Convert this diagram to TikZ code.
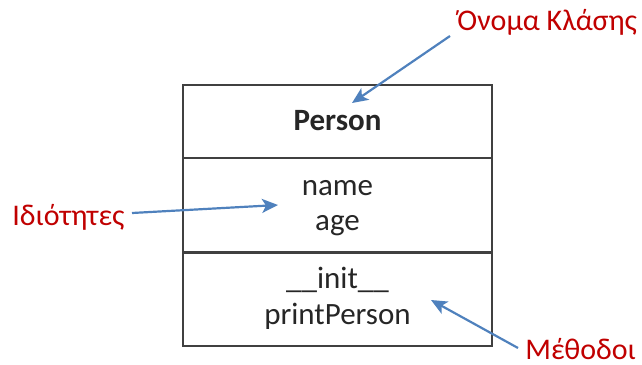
\documentclass[tikz,border=0pt]{standalone}
\usepackage{fontspec}
\setmainfont{Carlito}
\usetikzlibrary{arrows.meta,positioning,calc}
\definecolor{umlInk}{RGB}{38,38,38}
\definecolor{umlEdge}{RGB}{64,64,64}
\definecolor{umlRed}{RGB}{192,0,0}
\definecolor{umlBlue}{RGB}{79,129,189}
\begin{document}
\begin{tikzpicture}[x=.5pt,y=-.5pt]
\tikzset{
part/.style={draw=umlEdge,line width=.6pt,minimum width=154.5pt,inner sep=0pt},
entry/.style={font=\fontsize{15.5}{17}\selectfont,text=umlInk,anchor=base,inner sep=0pt},
tag/.style={font=\fontsize{15}{17}\selectfont,text=umlRed,inner sep=0pt},
pointer/.style={draw=umlBlue,line width=1.1pt,-{Stealth[length=8pt,width=7pt,inset=2pt]}}
}
\useasboundingbox (0,0) rectangle (642,364);
\node[part,minimum height=36.5pt] (head) at (337.5,121.5) {};
\node[part,minimum height=47pt] (attrs) at (337.5,205) {};
\node[part,minimum height=47pt] (ops) at (337.5,299) {};
\draw[umlEdge,line width=.9pt] (attrs.south west) -- (attrs.south east);
\node[entry,font=\bfseries\fontsize{15.5}{17}\selectfont] (cls) at (337.5,130) {Person};
\node[entry] (attr1) at (337.5,195) {name};
\node[entry] (attr2) at (337.5,230) {age};
\node[entry] (op1) at (337.5,288) {\_\_init\_\_};
\node[entry] (op2) at (337.5,324) {printPerson};
% labels
\node[tag,anchor=base west] (cname) at (457,30) {Όνομα Κλάσης};
\node[tag,anchor=base west] (props) at (12,225) {Ιδιότητες};
\node[tag,anchor=base west] (meths) at (525,359) {Μέθοδοι};
\coordinate (tipc) at (352,103);
\coordinate (tipp) at (278,205);
\coordinate (tipm) at (431,300);
\draw[pointer] ($(cname.base west)+(-7,6)$) -- (tipc);
\draw[pointer] ($(props.base east)+(7,-12)$) -- (tipp);
\draw[pointer] ($(meths.base west)+(-7,-11)$) -- (tipm);
\end{tikzpicture}
\end{document}
